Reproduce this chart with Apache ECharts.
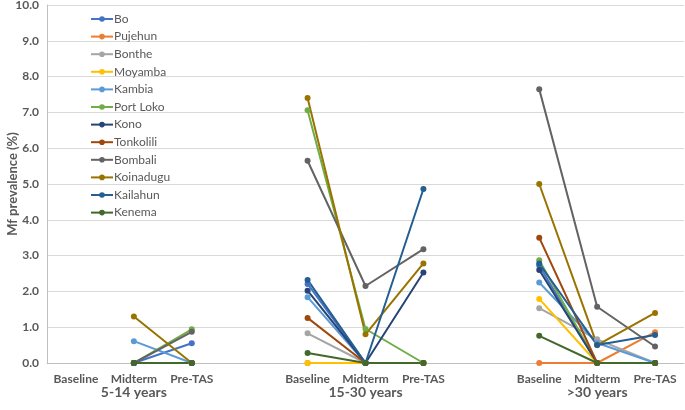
<!DOCTYPE html>
<html><head><meta charset="utf-8">
<script src="https://cdn.jsdelivr.net/npm/echarts@6/dist/echarts.min.js"></script>
<style>html,body{margin:0;padding:0;background:#fff}#c{width:685px;height:410px}</style>
</head><body><div id="c"></div>
<script>
const categories = ['Baseline','Midterm','Pre-TAS','','Baseline','Midterm','Pre-TAS','','Baseline','Midterm','Pre-TAS'];
const groupLabels = ['','5-14 years','','','','15-30 years','','','','>30 years',''];
const yTicks = [0,1,2,3,4,5,6,7,8,9,10];
const seriesNames = ['Bo','Pujehun','Bonthe','Moyamba','Kambia','Port Loko','Kono','Tonkolili','Bombali','Koinadugu','Kailahun','Kenema'];
const colors = ['#4472C4','#ED7D31','#A5A5A5','#FFC000','#5B9BD5','#70AD47','#264478','#9E480E','#636363','#997300','#255E91','#43682B'];
// values: [5-14: B,M,P] gap [15-30: B,M,P] gap [>30: B,M,P]
const Bo        = [null,0,0.55, null, 2.21,0,0, null, 2.72,0,0];
const Pujehun   = [null,0,0,    null, 0,0,0,    null, 0,0,0.86];
const Bonthe    = [null,0,0,    null, 0.83,0,0, null, 1.53,0.66,0];
const Moyamba   = [null,0,0,    null, 0,0,0,    null, 1.79,0,0];
const Kambia    = [null,0.61,0, null, 1.84,0,0, null, 2.25,0.56,0];
const PortLoko  = [null,0,0.94, null, 7.06,0.95,0, null, 2.87,0,0];
const Kono      = [null,0,0,    null, 2.02,0,2.53, null, 2.6,0,0];
const Tonkolili = [null,0,0,    null, 1.26,0,0, null, 3.5,0,0];
const Bombali   = [null,0,0.87, null, 5.65,2.15,3.18, null, 7.65,1.57,0.46];
const Koinadugu = [null,1.3,0,  null, 7.4,0.8,2.78, null, 5.0,0.5,1.4];
const Kailahun  = [null,0,0,    null, 2.32,0,4.86, null, 2.78,0.5,0.78];
const Kenema    = [null,0,0,    null, 0.28,0,0, null, 0.76,0,0];
const values = [Bo,Pujehun,Bonthe,Moyamba,Kambia,PortLoko,Kono,Tonkolili,Bombali,Koinadugu,Kailahun,Kenema];

const chart = echarts.init(document.getElementById('c'));
const FF = 'Lato, "Open Sans", "Liberation Sans", sans-serif';
const lbl = {color:'#595959', fontWeight:'bold', fontFamily:FF};
chart.setOption({
  animation:false,
  grid:{left:47, right:1, top:5, bottom:47, containLabel:false, outerBoundsMode:'none'},
  legend:{
    orient:'vertical', left:85, top:8, itemGap:5.6, itemWidth:22, itemHeight:7,
    data:seriesNames,
    textStyle:{color:'#595959', fontSize:12, fontFamily:FF, padding:[0,0,0,-4], lineHeight:11}
  },
  xAxis:[{
    type:'category', data:categories, boundaryGap:true,
    axisLine:{lineStyle:{color:'#BFBFBF'}}, axisTick:{show:false},
    axisLabel:Object.assign({fontSize:12, margin:10, interval:0}, lbl)
  },{
    type:'category', data:groupLabels, position:'bottom', offset:14, boundaryGap:true,
    axisLine:{show:false}, axisTick:{show:false},
    axisLabel:Object.assign({fontSize:14, margin:8, interval:0}, lbl)
  }],
  yAxis:{
    type:'value', min:yTicks[0], max:yTicks[yTicks.length-1], interval:1,
    name:'Mf prevalence (%)', nameLocation:'middle', nameGap:28, nameMoveOverlap:false,
    nameTextStyle:Object.assign({fontSize:13}, lbl),
    axisLine:{show:true, lineStyle:{color:'#BFBFBF'}}, axisTick:{show:false},
    axisLabel:Object.assign({fontSize:12, margin:8, formatter:v=>v.toFixed(1)}, lbl),
    splitLine:{lineStyle:{color:'#D9D9D9'}}
  },
  series:seriesNames.map((n,i)=>({
    name:n, type:'line', data:values[i], connectNulls:false,
    symbol:'circle', symbolSize:6, color:colors[i],
    lineStyle:{width:2, color:colors[i]}, itemStyle:{color:colors[i]}
  }))
});
</script></body></html>
